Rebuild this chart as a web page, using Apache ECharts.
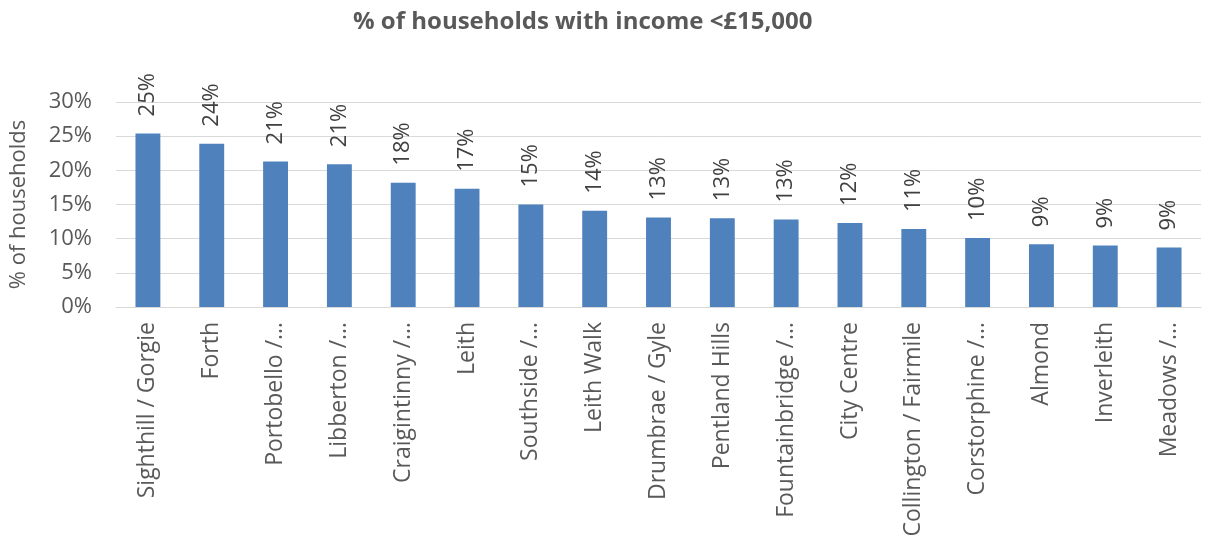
<!DOCTYPE html>
<html>
<head>
<meta charset="utf-8">
<title>% of households with income &lt;£15,000</title>
<script src="https://cdn.jsdelivr.net/npm/echarts@6/dist/echarts.min.js"></script>
<style>
  html, body { margin: 0; padding: 0; background: #fff; }
  #chart { width: 1214px; height: 546px; }
</style>
</head>
<body>
<div id="chart"></div>
<script>
// data
var areas = ['Sighthill / Gorgie', 'Forth', 'Portobello /…', 'Libberton /…', 'Craigintinny /…',
  'Leith', 'Southside /…', 'Leith Walk', 'Drumbrae / Gyle', 'Pentland Hills', 'Fountainbridge /…',
  'City Centre', 'Collington / Fairmile', 'Corstorphine /…', 'Almond', 'Inverleith', 'Meadows /…'];
var pct = [25.4, 23.9, 21.3, 20.9, 18.2, 17.3, 15.0, 14.1, 13.1, 13.0, 12.8, 12.3, 11.4, 10.1, 9.2, 9.0, 8.7];
var yTicks = [0, 5, 10, 15, 20, 25, 30];

var font = '"Open Sans", Lato, sans-serif';
var grey = '#595959';

var chart = echarts.init(document.getElementById('chart'));
chart.setOption({
  animation: false,
  title: {
    text: '% of households with income <£15,000',
    left: 348,
    top: 5,
    textStyle: { color: grey, fontSize: 24, fontWeight: 'bold', fontFamily: font }
  },
  grid: { left: 113, right: 13, top: 102, bottom: 239 },
  xAxis: {
    type: 'category',
    data: areas,
    axisLine: { lineStyle: { color: '#d9d9d9', width: 1 } },
    axisTick: { show: false },
    axisLabel: { rotate: 90, interval: 0, margin: 15, color: grey, fontSize: 23, fontFamily: font }
  },
  yAxis: {
    type: 'value',
    min: yTicks[0],
    max: yTicks[yTicks.length - 1],
    interval: 5,
    name: '% of households',
    nameLocation: 'middle',
    nameGap: 86,
    nameTextStyle: { color: grey, fontSize: 22, fontFamily: font },
    splitLine: { lineStyle: { color: '#d9d9d9' } },
    axisLabel: { color: grey, fontSize: 22, fontFamily: font, margin: 24, formatter: '{value}%' }
  },
  series: [{
    type: 'bar',
    data: pct,
    barWidth: '39%',
    itemStyle: { color: '#4f81bd' },
    label: {
      show: true,
      position: 'top',
      rotate: 90,
      align: 'left',
      verticalAlign: 'middle',
      distance: 17,
      color: '#404040',
      fontSize: 22,
      fontFamily: font,
      formatter: function (p) { return Math.round(p.value) + '%'; }
    }
  }]
});
</script>
</body>
</html>
